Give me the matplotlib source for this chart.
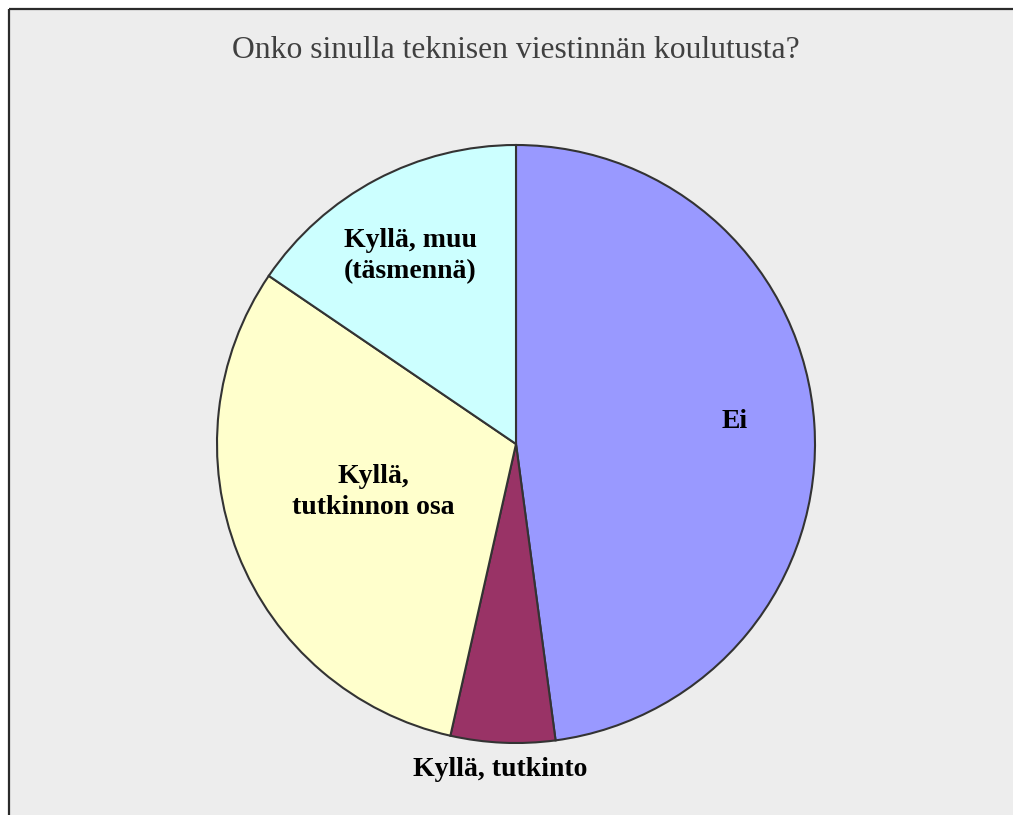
import matplotlib
matplotlib.use("Agg")
import matplotlib.pyplot as plt
from matplotlib.patches import Rectangle

categories = ["Ei", "Kyllä, tutkinto", "Kyllä,\ntutkinnon osa", "Kyllä, muu\n(täsmennä)"]
values = [34, 4, 22, 11]
colors = ["#9999FF", "#993366", "#FFFFCC", "#CCFFFF"]
title = "Onko sinulla teknisen viestinnän koulutusta?"

W, H = 1013, 815
fig = plt.figure(figsize=(W / 100, H / 100), dpi=100, facecolor="white")
ax = fig.add_axes([0, 0, 1, 1])

cx, cy, r = 516, H - 444, 299
wedges, _ = ax.pie(values, colors=colors, startangle=90, counterclock=False,
                   center=(cx, cy), radius=r, frame=True,
                   wedgeprops=dict(edgecolor="#333333", linewidth=1.5, zorder=2))
ax.set_xlim(0, W)
ax.set_ylim(0, H)
ax.set_aspect("auto")
ax.axis("off")

# background panel with border (top & left visible)
ax.add_patch(Rectangle((8.5, 0), W, H - 8.5, facecolor="#EDEDED", edgecolor="none", zorder=0))
ax.plot([8.5, W], [H - 8.5, H - 8.5], color="#2b2b2b", lw=1.6, zorder=1, solid_capstyle="butt")
ax.plot([8.5, 8.5], [0, H - 8.5], color="#2b2b2b", lw=1.6, zorder=1, solid_capstyle="butt")

ax.text(516, H - 50, title, ha="center", va="center", fontsize=22.8,
        family="Liberation Serif", color="#404040")

label_pos = [(735, H - 421), (500, H - 770), (373, H - 492), (410, H - 256)]
for lab, (x, y) in zip(categories, label_pos):
    ax.text(x, y, lab, ha="center", va="center", fontsize=20, fontweight="bold",
            family="Liberation Serif", color="black", linespacing=1.35, zorder=3)

fig.savefig("out.png", dpi=100, facecolor="white")
